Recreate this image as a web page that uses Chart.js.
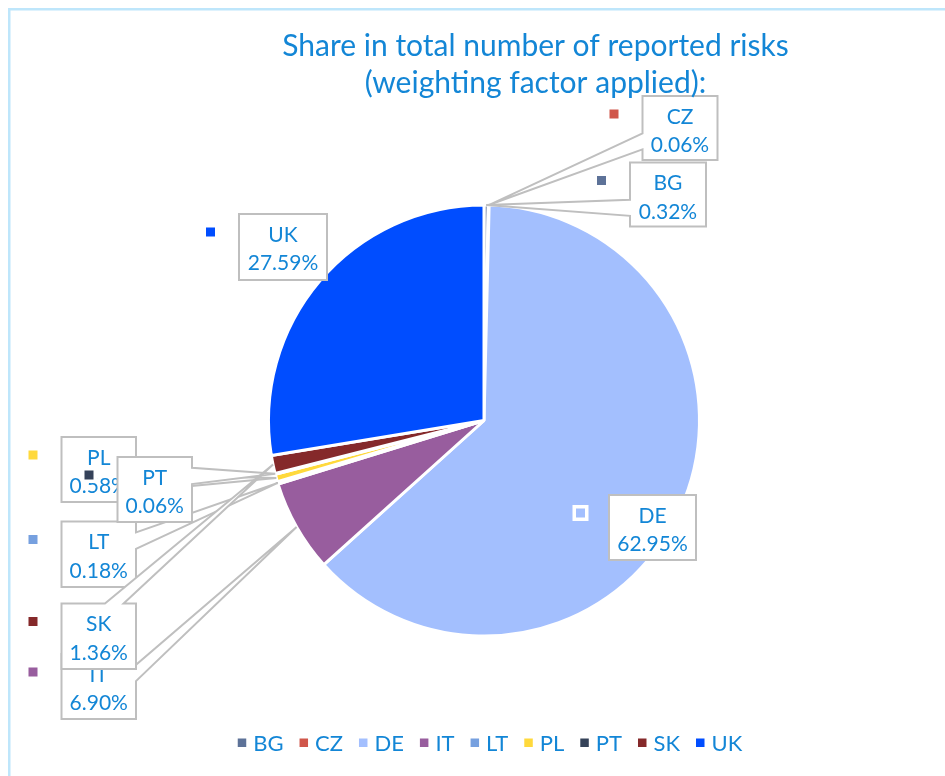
<!DOCTYPE html>
<html>
<head>
<meta charset="utf-8">
<title>Share in total number of reported risks</title>
<script src="https://cdn.jsdelivr.net/npm/chart.js@4.4.1/dist/chart.umd.min.js"></script>
<style>
  html, body { margin: 0; padding: 0; background: #fff; }
  #wrap { position: relative; width: 945px; height: 776px; }
</style>
</head>
<body>
<div id="wrap"><canvas id="riskChart" width="945" height="776"></canvas></div>
<script>
const countries = ['BG', 'CZ', 'DE', 'IT', 'LT', 'PL', 'PT', 'SK', 'UK'];
const shares = [0.32, 0.06, 62.95, 6.90, 0.18, 0.58, 0.06, 1.36, 27.59];
const sliceColors = ['#5D7298', '#D0564A', '#A3BFFE', '#985D9E', '#76A0DF', '#FFD93C', '#354259', '#85292A', '#004DFF'];
const titleLines = ['Share in total number of reported risks', '(weighting factor applied):'];
// which labels get pulled out with a pointer back to their slice
const hasLeader = [true, true, false, true, true, true, true, true, false];

// callout boxes: left, top, width, height
const calloutBoxes = [
  [630, 162.5, 76, 64],   // BG
  [642.5, 96, 75, 64],    // CZ
  [609, 495, 87, 65],     // DE
  [61.5, 654, 74.5, 65],  // IT
  [61.5, 521.5, 74.5, 65.5], // LT
  [61.5, 437, 74.5, 65],  // PL
  [117.5, 457, 74.5, 65], // PT
  [61.5, 603.5, 74.5, 65.5], // SK
  [239, 214, 88, 66]      // UK
];

const TEXT_BLUE = '#1386D6';
const FONT = 'Lato, "Noto Sans", sans-serif';

function fmtShare(v) {
  return v.toFixed(2) + '%';
}

// rectangle callout with a wedge pointing at (tx, ty)
function calloutPath(ctx, bx, by, bw, bh, tx, ty) {
  const cx = bx + bw / 2, cy = by + bh / 2;
  const dx = tx - cx, dy = ty - cy;
  const vert = Math.abs(dy) > Math.abs(dx * bh / bw);
  const x1 = bx + bw * (dx > 0 ? 7 : 2) / 12, x2 = bx + bw * (dx > 0 ? 10 : 5) / 12;
  const y1 = by + bh * (dy > 0 ? 7 : 2) / 12, y2 = by + bh * (dy > 0 ? 10 : 5) / 12;
  const r = bx + bw, b = by + bh;
  ctx.beginPath();
  ctx.moveTo(bx, by);
  if (vert && dy < 0) { ctx.lineTo(x1, by); ctx.lineTo(tx, ty); ctx.lineTo(x2, by); }
  ctx.lineTo(r, by);
  if (!vert && dx > 0) { ctx.lineTo(r, y1); ctx.lineTo(tx, ty); ctx.lineTo(r, y2); }
  ctx.lineTo(r, b);
  if (vert && dy > 0) { ctx.lineTo(x2, b); ctx.lineTo(tx, ty); ctx.lineTo(x1, b); }
  ctx.lineTo(bx, b);
  if (!vert && dx < 0) { ctx.lineTo(bx, y2); ctx.lineTo(tx, ty); ctx.lineTo(bx, y1); }
  ctx.closePath();
}

function drawKey(ctx, x, y, color, size) {
  ctx.fillStyle = '#fff';
  ctx.fillRect(x - size / 2 - 3.5, y - size / 2 - 3.5, size + 7, size + 7);
  ctx.fillStyle = color;
  ctx.fillRect(x - size / 2, y - size / 2, size, size);
}

const calloutPlugin = {
  id: 'callouts',
  afterDatasetsDraw(chart) {
    const ctx = chart.ctx;
    const arcs = chart.getDatasetMeta(0).data;
    ctx.save();
    arcs.forEach((arc, i) => {
      const [bx, by, bw, bh] = calloutBoxes[i];
      const p = arc.getProps(['x', 'y', 'startAngle', 'endAngle', 'outerRadius'], true);
      const mid = (p.startAngle + p.endAngle) / 2;
      ctx.lineWidth = 2;
      ctx.strokeStyle = '#BFBFBF';
      ctx.fillStyle = '#fff';
      if (hasLeader[i]) {
        const tx = p.x + Math.cos(mid) * p.outerRadius;
        const ty = p.y + Math.sin(mid) * p.outerRadius;
        calloutPath(ctx, bx, by, bw, bh, tx, ty);
      } else {
        ctx.beginPath();
        ctx.rect(bx, by, bw, bh);
      }
      ctx.fill();
      ctx.stroke();

      drawKey(ctx, bx - 28.5, by + 18, sliceColors[i], 9);

      ctx.fillStyle = TEXT_BLUE;
      ctx.font = '21px ' + FONT;
      ctx.textAlign = 'center';
      ctx.textBaseline = 'alphabetic';
      ctx.fillText(countries[i], bx + bw / 2, by + 27.5);
      ctx.fillText(fmtShare(shares[i]), bx + bw / 2, by + 56);
    });
    ctx.restore();
  },
  afterDraw(chart) {
    const ctx = chart.ctx;
    ctx.save();

    // thin frame along the top and left
    ctx.strokeStyle = '#BEE6FB';
    ctx.lineWidth = 2.5;
    ctx.beginPath();
    ctx.moveTo(9.25, 776);
    ctx.lineTo(9.25, 9.25);
    ctx.lineTo(945, 9.25);
    ctx.stroke();

    // title
    ctx.fillStyle = TEXT_BLUE;
    ctx.font = '30px ' + FONT;
    ctx.textAlign = 'center';
    ctx.textBaseline = 'alphabetic';
    ctx.fillText(titleLines[0], 535.5, 55.5);
    ctx.fillText(titleLines[1], 535.5, 92.5);

    // legend row
    ctx.font = '22px ' + FONT;
    ctx.textAlign = 'left';
    const key = 8.5, gapIn = 7, gapOut = 16;
    const widths = countries.map(c => ctx.measureText(c).width);
    let total = widths.reduce((s, w) => s + key + gapIn + w, 0) + gapOut * (countries.length - 1);
    let x = 490 - total / 2;
    countries.forEach((c, i) => {
      ctx.fillStyle = sliceColors[i];
      ctx.fillRect(x, 738.5, key, key);
      x += key + gapIn;
      ctx.fillStyle = TEXT_BLUE;
      ctx.fillText(c, x, 750.5);
      x += widths[i] + gapOut;
    });
    ctx.restore();
  }
};

new Chart(document.getElementById('riskChart'), {
  type: 'pie',
  data: {
    labels: countries,
    datasets: [{
      data: shares,
      backgroundColor: sliceColors,
      borderColor: '#ffffff',
      borderWidth: 3
    }]
  },
  options: {
    responsive: false,
    animation: false,
    events: [],
    layout: {
      padding: { left: 267, right: 244, top: 203.5, bottom: 138.5 }
    },
    plugins: {
      legend: { display: false },
      title: { display: false },
      tooltip: { enabled: false }
    }
  },
  plugins: [calloutPlugin]
});
</script>
</body>
</html>
